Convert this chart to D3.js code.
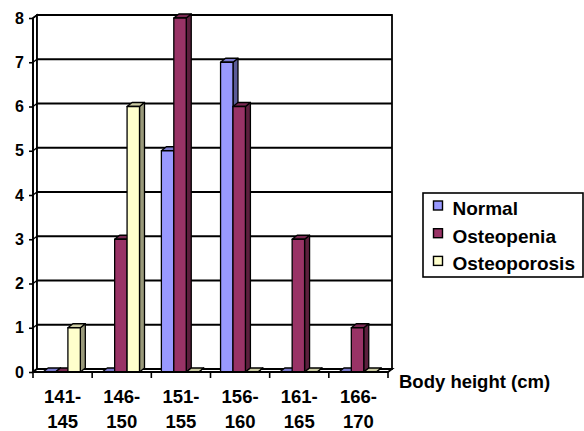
<!DOCTYPE html>
<html><head><meta charset="utf-8">
<script src="https://cdn.jsdelivr.net/npm/d3@7"></script>
<style>
html,body{margin:0;padding:0;background:#fff;}
svg{display:block;font-family:"Liberation Sans",Arial,sans-serif;font-weight:bold;}
</style></head>
<body><svg id="c" width="584" height="431"></svg>
<script>
const categories = ["141-145","146-150","151-155","156-160","161-165","166-170"];
const seriesNames = ["Normal","Osteopenia","Osteoporosis"];
const normal = [0,0,5,7,0,0];
const osteopenia = [0,3,8,6,3,1];
const osteoporosis = [1,6,0,0,0,0];
const yTicks = [0,1,2,3,4,5,6,7,8];
const xTitle = "Body height (cm)";

const seriesValues = [normal, osteopenia, osteoporosis];
const fronts = ["#9999FF","#993366","#FFFFCC"];
const sides  = ["#5C5C99","#5C1F3D","#99997A"];
const tops   = ["#7A7ACC","#7A2952","#CCCCA3"];

const svg = d3.select("#c");
const x0 = 33, x1 = 388, yBase = 372, yTop = 18;
const wdx = 4, wdy = 3;       // wall depth offset
const bdx = 5, bdy = 4;       // bar depth offset

const x = d3.scaleBand().domain(categories).range([x0, x1]).paddingInner(0).paddingOuter(0);
const cw = x.bandwidth();
const xs = d3.scaleBand().domain(seriesNames).range([cw*0.17, cw*0.17 + cw*0.63]).padding(0);
const y = d3.scaleLinear().domain([0,8]).range([yBase, yTop]);

// side wall
const g = svg.append("g");
g.append("path").attr("d", `M${x0},${yBase}L${x0},${y(8)}L${x0+wdx},${y(8)-wdy}L${x0+wdx},${yBase-wdy}Z`)
  .attr("fill","#fff").attr("stroke","#000").attr("stroke-width",1.6);
// back wall
g.append("rect").attr("x",x0+wdx).attr("y",y(8)-wdy).attr("width",x1-x0).attr("height",yBase-y(8))
  .attr("fill","#fff").attr("stroke","#000").attr("stroke-width",1.8);
// gridlines
yTicks.forEach(v=>{
  g.append("line").attr("x1",x0+wdx).attr("x2",x1+wdx).attr("y1",y(v)-wdy).attr("y2",y(v)-wdy)
    .attr("stroke","#000").attr("stroke-width",1.8);
  g.append("line").attr("x1",x0).attr("x2",x0+wdx).attr("y1",y(v)).attr("y2",y(v)-wdy)
    .attr("stroke","#000").attr("stroke-width",1.4);
});
// floor
g.append("path").attr("d",`M${x0},${yBase}L${x1},${yBase}L${x1+wdx},${yBase-wdy}L${x0+wdx},${yBase-wdy}Z`)
  .attr("fill","#fff").attr("stroke","#000").attr("stroke-width",1.8);

// bars
const bw = xs.bandwidth();
categories.forEach((c,i)=>{
  seriesNames.forEach((s,j)=>{
    const v = seriesValues[j][i];
    const bx = x(c) + xs(s);
    const yt = y(v);
    const bg = svg.append("g").attr("stroke","#000").attr("stroke-width",1.3).attr("stroke-linejoin","round");
    bg.append("path").attr("d",`M${bx+bw},${yBase}L${bx+bw},${yt}L${bx+bw+bdx},${yt-bdy}L${bx+bw+bdx},${yBase-bdy}Z`)
      .attr("fill",sides[j]);
    bg.append("path").attr("d",`M${bx},${yt}L${bx+bw},${yt}L${bx+bw+bdx},${yt-bdy}L${bx+bdx},${yt-bdy}Z`)
      .attr("fill",tops[j]);
    bg.append("rect").attr("x",bx).attr("y",yt).attr("width",bw).attr("height",yBase-yt)
      .attr("fill",fronts[j]);
  });
});

// front axis line & baseline
svg.append("line").attr("x1",x0).attr("x2",x0).attr("y1",y(8)).attr("y2",yBase).attr("stroke","#000").attr("stroke-width",1.8);
svg.append("line").attr("x1",x0).attr("x2",x1).attr("y1",yBase).attr("y2",yBase).attr("stroke","#000").attr("stroke-width",1.8);

// y axis
const yAxis = d3.axisLeft(y).tickValues(yTicks).tickSize(4).tickPadding(5).tickFormat(d3.format("d"));
const ya = svg.append("g").attr("transform",`translate(${x0},0)`).call(yAxis);
ya.select(".domain").remove();
ya.selectAll(".tick line").attr("stroke","#000").attr("stroke-width",1.6);
ya.selectAll(".tick text").attr("font-size",16).attr("font-weight","bold").attr("fill","#000")
  .attr("font-family","Liberation Sans, Arial, sans-serif");

// x axis ticks at band boundaries
const bounds = categories.map(c=>x(c)).concat([x1]);
bounds.forEach(b=>{
  svg.append("line").attr("x1",b).attr("x2",b).attr("y1",yBase).attr("y2",yBase+6).attr("stroke","#000").attr("stroke-width",1.6);
});
categories.forEach(c=>{
  const parts = c.split("-");
  const t = svg.append("text").attr("text-anchor","middle").attr("font-size",18.5).attr("fill","#000");
  t.append("tspan").attr("x",x(c)+cw/2).attr("y",403).text(parts[0]+"-");
  t.append("tspan").attr("x",x(c)+cw/2).attr("y",427.5).text(parts[1]);
});
svg.append("text").attr("x",399).attr("y",388).attr("font-size",18.5).attr("fill","#000").text(xTitle);

// legend
const lg = svg.append("g");
lg.append("rect").attr("x",423).attr("y",193).attr("width",160).attr("height",84)
  .attr("fill","#fff").attr("stroke","#000").attr("stroke-width",1.6);
seriesNames.forEach((s,j)=>{
  const yy = 201 + j*27.7;
  lg.append("rect").attr("x",433.5).attr("y",yy).attr("width",9).attr("height",9)
    .attr("fill",fronts[j]).attr("stroke","#000").attr("stroke-width",1.4);
  lg.append("text").attr("x",452.5).attr("y",yy+14).attr("font-size",19).attr("fill","#000").text(s);
});
</script></body></html>
